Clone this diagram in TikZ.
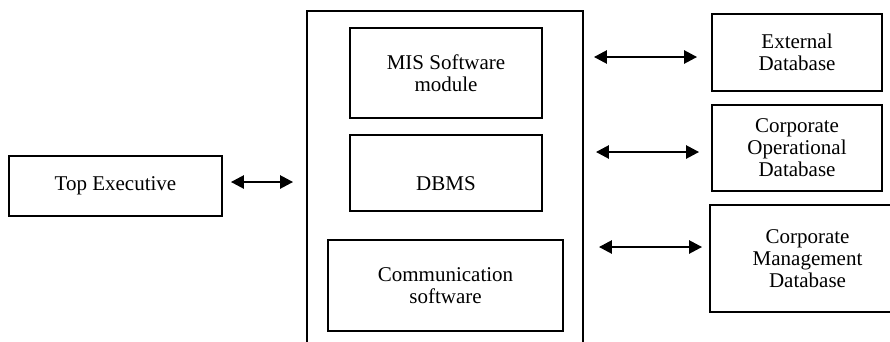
\documentclass[tikz,border=0pt]{standalone}
\usepackage{fontspec}
\setmainfont{Liberation Serif}
\usetikzlibrary{arrows.meta}
\tikzset{
  box/.style={draw=black, line width=1.8pt, rectangle, align=center, inner sep=0pt,
    font=\fontsize{21}{22}\selectfont},
  biarrow/.style={line width=2.5pt, {Triangle[length=13pt,width=13pt]}-{Triangle[length=13pt,width=13pt]}}
}
\begin{document}
\begin{tikzpicture}[x=1pt,y=1pt]
\clip (0,0) rectangle (890,-341);
\fill[white] (0,0) rectangle (890,-341);
% outer container
\node[box, minimum width=276pt, minimum height=349pt] (outer) at (445,-185.5) {};
\node[box, minimum width=192pt, minimum height=90pt] (mis) at (446,-73) {MIS Software\\module};
\node[box, minimum width=192pt, minimum height=76pt, text height=34pt, text depth=0pt] (dbms) at (446,-173) {DBMS};
\node[box, minimum width=235pt, minimum height=91pt] (comm) at (445.5,-285.5) {Communication\\software};
% left
\node[box, minimum width=213pt, minimum height=60pt] (te) at (115.5,-186) {Top Executive};
% right
\node[box, minimum width=170pt, minimum height=77pt] (ext) at (797,-52.5) {External\\Database};
\node[box, minimum width=170pt, minimum height=86pt] (op) at (797,-148) {Corporate\\Operational\\Database};
\node[box, minimum width=195pt, minimum height=107pt] (mg) at (807.5,-258.5) {Corporate\\Management\\Database};
% arrow anchors
\path ([yshift=4pt]te.east) coordinate (t0);
\path ([yshift=-4.5pt]ext.west) coordinate (e1);
\path ([yshift=-4pt]op.west) coordinate (e2);
\path ([yshift=11.5pt]mg.west) coordinate (e3);
\draw[biarrow, shorten <=8pt, shorten >=13pt] (t0) -- (t0 -| outer.west);
\draw[biarrow, shorten <=10pt, shorten >=14pt] (e1 -| outer.east) -- (e1);
\draw[biarrow, shorten <=12pt, shorten >=12pt] (e2 -| outer.east) -- (e2);
\draw[biarrow, shorten <=15pt, shorten >=7pt] (e3 -| outer.east) -- (e3);
\end{tikzpicture}
\end{document}
